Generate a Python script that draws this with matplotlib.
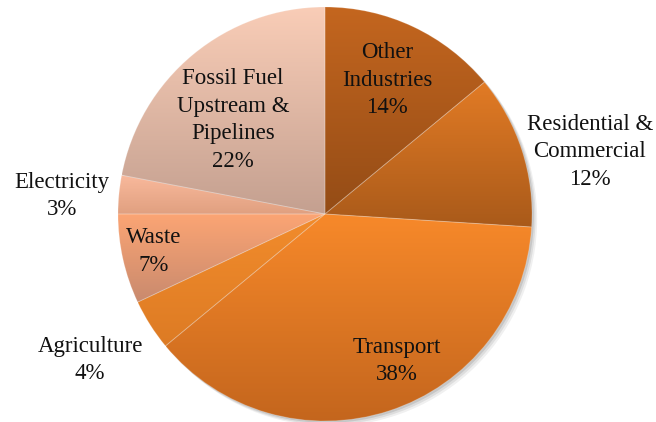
import numpy as np
import matplotlib
matplotlib.use("Agg")
import matplotlib.pyplot as plt
from matplotlib.colors import LinearSegmentedColormap
from matplotlib.patches import Circle

# Emission shares by sector (%), clockwise from 12 o'clock
sectors = ["Other\nIndustries", "Residential &\nCommercial", "Transport", "Agriculture",
           "Waste", "Electricity", "Fossil Fuel\nUpstream &\nPipelines"]
shares = [14, 12, 38, 4, 7, 3, 22]

# top / bottom shade of each wedge's vertical gradient
top_colors = ["#c4661f", "#e27b25", "#f7892a", "#f28c2c", "#fca574", "#f9b99c", "#f9cdb7"]
bottom_colors = ["#944c16", "#a95a1a", "#c3651d", "#dd7b24", "#c98a6e", "#e0a080", "#c4a090"]

# label centres in data units (pie radius = 1)
label_pos = [(0.30, 0.647), (1.28, 0.30), (0.348, -0.71), (-1.135, -0.705),
             (-0.83, -0.18), (-1.27, 0.087), (-0.444, 0.454)]

fig = plt.figure(figsize=(6.56, 4.22), dpi=100)
ax = fig.add_axes([0, 0, 1, 1])
ax.axis("off")

# soft drop shadow
for k, a in [(0.025, 0.06), (0.017, 0.08), (0.009, 0.10)]:
    ax.add_patch(Circle((k, -k), 1.0, color="black", alpha=a, lw=0, zorder=0))

wedges, _ = ax.pie(shares, startangle=90, counterclock=False, radius=1.0,
                   wedgeprops=dict(edgecolor=(1, 1, 1, 0.2), linewidth=0.7))

grad = np.linspace(0, 1, 256).reshape(-1, 1)
for w, c0, c1 in zip(wedges, top_colors, bottom_colors):
    verts = w.get_patch_transform().transform(w.get_path().vertices)
    x0, y0 = verts.min(axis=0)
    x1, y1 = verts.max(axis=0)
    cmap = LinearSegmentedColormap.from_list("g", [c0, c1])
    im = ax.imshow(grad, cmap=cmap, extent=(x0, x1, y0, y1), origin="upper",
                   aspect="auto", zorder=1, interpolation="bilinear")
    im.set_clip_path(w)
    w.set_facecolor("none")
    w.set_zorder(2)

ax.set_aspect("auto")
ax.set_xlim(-325 / 207, (656 - 325) / 207)
ax.set_ylim(-208 / 207, 214 / 207)

for name, val, (x, y) in zip(sectors, shares, label_pos):
    ax.text(x, y, f"{name}\n{val}%", ha="center", va="center", fontsize=16.5,
            family="Liberation Serif", linespacing=1.42, color="#111111", zorder=5)

fig.savefig("out.png", dpi=100)
